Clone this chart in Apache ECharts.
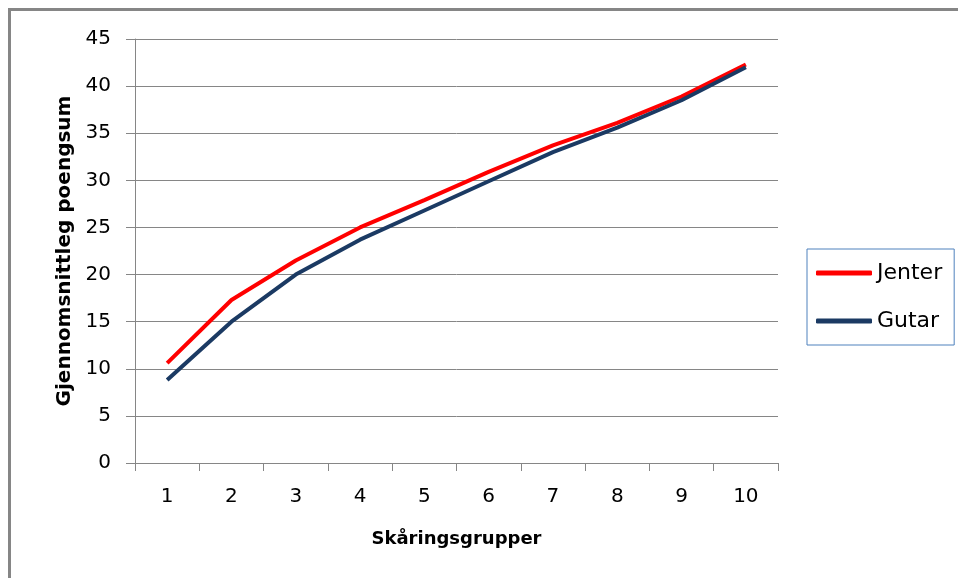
<!DOCTYPE html>
<html>
<head>
<meta charset="utf-8">
<script src="https://cdn.jsdelivr.net/npm/echarts@6/dist/echarts.min.js"></script>
<style>
html,body{margin:0;padding:0;background:#fff;}
#chart{width:958px;height:578px;}
</style>
</head>
<body>
<div id="chart"></div>
<script>
const categories = ['1','2','3','4','5','6','7','8','9','10'];
const jenter = [10.6, 17.3, 21.5, 25.0, 27.9, 30.9, 33.7, 36.1, 38.9, 42.3];
const gutar  = [8.8, 15.0, 20.0, 23.7, 26.8, 29.9, 33.0, 35.6, 38.5, 42.0];
const seriesNames = ['Jenter', 'Gutar'];
const xTitle = 'Skåringsgrupper';
const yTitle = 'Gjennomsnittleg poengsum';

const FONT = 'DejaVu Sans';
const chart = echarts.init(document.getElementById('chart'), null, {renderer: 'canvas'});
chart.setOption({
  animation: false,
  backgroundColor: '#ffffff',
  graphic: [{
    type: 'rect',
    shape: {x: 9.5, y: 9.5, width: 980, height: 600},
    style: {fill: 'none', stroke: '#868686', lineWidth: 3},
    silent: true
  }],
  grid: {left: 135, right: 180, top: 39, bottom: 115, containLabel: false},
  legend: {
    orient: 'vertical',
    left: 807, top: 249,
    padding: [13, 12, 13, 9],
    itemGap: 26,
    itemWidth: 56, itemHeight: 5,
    itemTextGap: 3,
    icon: 'roundRect',
    borderColor: '#4F81BD', borderWidth: 1,
    textStyle: {fontFamily: FONT, fontSize: 22, color: '#000', lineHeight: 22},
    data: seriesNames
  },
  xAxis: {
    type: 'category',
    data: categories,
    boundaryGap: true,
    name: xTitle,
    nameLocation: 'middle',
    nameGap: 67,
    nameTextStyle: {fontFamily: FONT, fontSize: 18, fontWeight: 'bold', color: '#000'},
    axisLine: {lineStyle: {color: '#868686', width: 1}},
    axisTick: {show: true, length: 8, lineStyle: {color: '#868686'}},
    axisLabel: {fontFamily: FONT, fontSize: 20, color: '#000', margin: 24},
    splitLine: {show: false}
  },
  yAxis: {
    type: 'value',
    min: 0, max: 45, interval: 5,
    name: yTitle,
    nameLocation: 'middle',
    nameGap: 54,
    nameTextStyle: {fontFamily: FONT, fontSize: 20, fontWeight: 'bold', color: '#000'},
    axisLine: {show: true, lineStyle: {color: '#868686', width: 1}},
    axisTick: {show: true, length: 9, lineStyle: {color: '#868686'}},
    axisLabel: {fontFamily: FONT, fontSize: 20, color: '#000', margin: 24},
    splitLine: {show: true, lineStyle: {color: '#868686', width: 1}}
  },
  series: [
    {name: seriesNames[0], type: 'line', data: jenter, symbol: 'none', color: '#FF0000',
     lineStyle: {width: 4, color: '#FF0000'}},
    {name: seriesNames[1], type: 'line', data: gutar, symbol: 'none', color: '#1B3A63',
     lineStyle: {width: 4, color: '#1B3A63'}}
  ]
});
</script>
</body>
</html>
